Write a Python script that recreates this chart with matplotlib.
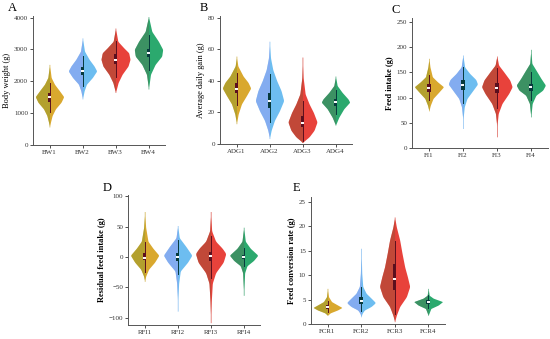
import numpy as np
import matplotlib
matplotlib.use("Agg")
import matplotlib.pyplot as plt

plt.rcParams['font.family'] = ['Liberation Serif', 'DejaVu Serif']

COLORS = ["#D9A82E", "#6DBDF0", "#E8423B", "#2BA96E"]
DARK = ["#5B0F1E", "#06393C", "#5B0F1E", "#06393C"]
SHADE = ["#8E9A2E", "#9A9CF0", "#9B4E36", "#4E7A5A"]

# ---------------- Panel A: Body weight ----------------
bw_labels = ["BW1", "BW2", "BW3", "BW4"]
bw_y = [
    [570, 724, 930, 1137, 1345, 1520, 1705, 1910, 2120, 2530],
    [1450, 1705, 1910, 2120, 2325, 2480, 2690, 2945, 3360],
    [1650, 1965, 2220, 2480, 2690, 2895, 3050, 3255, 3670],
    [1760, 2220, 2530, 2790, 3000, 3255, 3565, 4030],
]
bw_w = [
    [0.0, 0.03, 0.08, 0.18, 0.35, 0.43, 0.30, 0.15, 0.05, 0.0],
    [0.0, 0.05, 0.12, 0.30, 0.43, 0.35, 0.20, 0.06, 0.0],
    [0.0, 0.08, 0.20, 0.38, 0.44, 0.40, 0.25, 0.07, 0.0],
    [0.0, 0.06, 0.20, 0.40, 0.43, 0.30, 0.10, 0.0],
]
bw_box = [  # whisker low, q1, median, q3, whisker high
    [1050, 1350, 1500, 1620, 1950],
    [1850, 2200, 2330, 2450, 2800],
    [2150, 2550, 2680, 2850, 3250],
    [2350, 2750, 2890, 3020, 3450],
]

# ---------------- Panel B: Average daily gain ----------------
adg_labels = ["ADG1", "ADG2", "ADG3", "ADG4"]
adg_y = [
    [12.9, 19, 25.4, 30.6, 35.4, 39, 43, 49.4, 55.6],
    [3.5, 8.75, 15, 21, 27.5, 33.8, 40, 47, 54.6, 65],
    [1, 2, 4.6, 8.75, 14, 20, 25.4, 31.7, 42, 55],
    [12, 13, 17, 22.3, 26.5, 28.5, 32.7, 37, 43],
]
adg_w = [
    [0.0, 0.05, 0.15, 0.30, 0.43, 0.35, 0.20, 0.04, 0.0],
    [0.0, 0.05, 0.15, 0.30, 0.43, 0.35, 0.22, 0.10, 0.03, 0.0],
    [0.0, 0.05, 0.20, 0.35, 0.44, 0.33, 0.20, 0.08, 0.02, 0.0],
    [0.0, 0.02, 0.10, 0.25, 0.43, 0.38, 0.20, 0.05, 0.0],
]
adg_box = [
    [25, 32, 35, 38.5, 45],
    [14, 23, 27, 32, 44],
    [2, 10.5, 13.5, 17.5, 27],
    [19, 24, 26.7, 28.5, 34],
]

# ---------------- Panel C: Feed intake ----------------
fi_labels = ["FI1", "FI2", "FI3", "FI4"]
fi_y = [
    [74, 85, 98.5, 111.8, 121.7, 131.6, 141.5, 161, 178],
    [39, 62, 82, 98.5, 115, 127, 136, 148, 161, 184.5],
    [22.5, 49, 68.8, 88.6, 108.5, 121.7, 135, 151.5, 164.7, 182.5],
    [62, 88.6, 105, 115, 125, 138, 154.8, 168, 195.8],
]
fi_w = [
    [0.0, 0.04, 0.12, 0.30, 0.43, 0.25, 0.10, 0.03, 0.0],
    [0.0, 0.01, 0.04, 0.12, 0.30, 0.43, 0.38, 0.20, 0.05, 0.0],
    [0.0, 0.01, 0.04, 0.15, 0.35, 0.45, 0.38, 0.20, 0.05, 0.0],
    [0.0, 0.04, 0.15, 0.35, 0.43, 0.30, 0.15, 0.03, 0.0],
]
fi_box = [
    [95, 112, 120, 127, 145],
    [90, 115, 126, 136, 160],
    [80, 110, 120, 130, 158],
    [95, 113, 121, 128, 150],
]

# ---------------- Panel D: Residual feed intake ----------------
rfi_labels = ["RFI1", "RFI2", "RFI3", "RFI4"]
rfi_y = [
    [-40, -31.6, -20, -8.6, 2.9, 14.4, 25.9, 48.9, 74.7],
    [-89, -66, -43, -23, -8.6, 2.9, 17.2, 31.6, 51.7],
    [-108, -71.8, -43, -25.9, -8.6, 5.7, 14.4, 25.9, 43, 74.7],
    [-63, -25.9, -14.4, -5.7, 2.9, 14.4, 25.9, 48.9],
]
rfi_w = [
    [0.0, 0.03, 0.12, 0.30, 0.43, 0.25, 0.10, 0.03, 0.0],
    [0.0, 0.01, 0.03, 0.08, 0.30, 0.43, 0.25, 0.05, 0.0],
    [0.0, 0.02, 0.05, 0.15, 0.38, 0.46, 0.35, 0.15, 0.03, 0.0],
    [0.0, 0.03, 0.10, 0.30, 0.43, 0.20, 0.05, 0.0],
]
rfi_box = [
    [-25, -5, -1, 6, 25],
    [-28, -6, 0, 7, 28],
    [-35, -7, 2, 8, 35],
    [-15, -3, 0, 4, 15],
]

# ---------------- Panel E: Feed conversion rate ----------------
fcr_labels = ["FCR1", "FCR2", "FCR3", "FCR4"]
fcr_y = [
    [1.8, 2.3, 2.9, 3.4, 3.9, 4.6, 5.6, 7.3],
    [1.5, 2.2, 2.9, 3.6, 4.4, 5.3, 6.3, 7.7, 10.4, 15.5],
    [0.5, 1.8, 3.6, 5.6, 7.7, 9.7, 11.7, 14.5, 17.2, 19.9, 21.9],
    [1.8, 3.2, 3.9, 4.6, 5.3, 5.9, 7.3],
]
fcr_w = [
    [0.0, 0.08, 0.30, 0.43, 0.30, 0.12, 0.03, 0.0],
    [0.0, 0.03, 0.10, 0.30, 0.43, 0.30, 0.15, 0.05, 0.02, 0.0],
    [0.0, 0.05, 0.15, 0.35, 0.45, 0.38, 0.30, 0.22, 0.15, 0.05, 0.0],
    [0.0, 0.08, 0.30, 0.43, 0.15, 0.03, 0.0],
]
fcr_box = [
    [2.5, 3.1, 3.5, 3.9, 4.8],
    [2.6, 4.2, 4.7, 5.6, 7.5],
    [2.0, 7.0, 9.2, 12.3, 17.0],
    [3.2, 4.2, 4.6, 5.0, 6.0],
]


def smooth_profile(ys, ws, n=240):
    yy = np.linspace(ys[0], ys[-1], n)
    ww = np.interp(yy, ys, ws)
    k = 7
    kern = np.ones(k) / k
    pad = np.concatenate([np.zeros(k // 2), ww, np.zeros(k // 2)])
    ww = np.convolve(pad, kern, mode="valid")
    ww = np.maximum(ww, 0.008)
    return yy, ww


def draw_panel(ax, labels, ys, ws, boxes, ylim, yticks, ylabel, bold):
    for i in range(len(labels)):
        x0 = i + 1
        yy, ww = smooth_profile(ys[i], ws[i])
        ax.fill_betweenx(yy, x0 - ww, x0 + ww, color=COLORS[i], lw=0, zorder=2)
        ax.fill_betweenx(yy, x0 - ww, x0, color=SHADE[i], lw=0, alpha=0.5, zorder=2)
        lo, q1, med, q3, hi = boxes[i]
        ax.plot([x0, x0], [lo, hi], color=DARK[i], lw=0.7, zorder=3)
        ax.bar(x0, q3 - q1, bottom=q1, width=0.1, color=DARK[i], lw=0, zorder=4)
        ax.plot([x0 - 0.045, x0 + 0.045], [med, med], color="white", lw=1.4,
                solid_capstyle="butt", zorder=5)
    ax.set_xlim(0.5, 4.5)
    ax.set_ylim(*ylim)
    ax.set_xticks(range(1, len(labels) + 1))
    ax.set_xticklabels(labels)
    ax.set_yticks(yticks)
    for s in ["top", "right"]:
        ax.spines[s].set_visible(False)
    for s in ["left", "bottom"]:
        ax.spines[s].set_color("#555555")
        ax.spines[s].set_linewidth(0.7)
    ax.tick_params(axis="both", labelsize=5, length=2, width=0.6, colors="#333333", pad=1.5)
    ax.set_ylabel(ylabel, fontsize=6, fontweight="bold" if bold else "normal", labelpad=2)


fig = plt.figure(figsize=(5.5, 3.39), dpi=100)

axA = fig.add_axes([0.060, 0.572, 0.240, 0.381])
draw_panel(axA, bw_labels, bw_y, bw_w, bw_box, (0, 4050), [0, 1000, 2000, 3000, 4000],
           "Body weight (g)", False)
axB = fig.add_axes([0.400, 0.575, 0.240, 0.378])
draw_panel(axB, adg_labels, adg_y, adg_w, adg_box, (0, 81), [0, 20, 40, 60, 80],
           "Average daily gain (g)", False)
axC = fig.add_axes([0.749, 0.563, 0.247, 0.384])
draw_panel(axC, fi_labels, fi_y, fi_w, fi_box, (0, 258), [0, 50, 100, 150, 200, 250],
           "Feed intake (g)", True)
axD = fig.add_axes([0.233, 0.041, 0.240, 0.384])
draw_panel(axD, rfi_labels, rfi_y, rfi_w, rfi_box, (-112, 102), [-100, -50, 0, 50, 100],
           "Residual feed intake (g)", True)
axE = fig.add_axes([0.565, 0.044, 0.244, 0.375])
draw_panel(axE, fcr_labels, fcr_y, fcr_w, fcr_box, (0, 26), [0, 5, 10, 15, 20, 25],
           "Feed conversion rate (g)", True)

for lab, x, y in [("A", 8, 8), ("B", 200, 8), ("C", 392, 10), ("D", 103, 188), ("E", 293, 188)]:
    fig.text(x / 550, 1 - y / 339, lab, fontsize=9, ha="left", va="center")

fig.savefig("out.png", dpi=100)
